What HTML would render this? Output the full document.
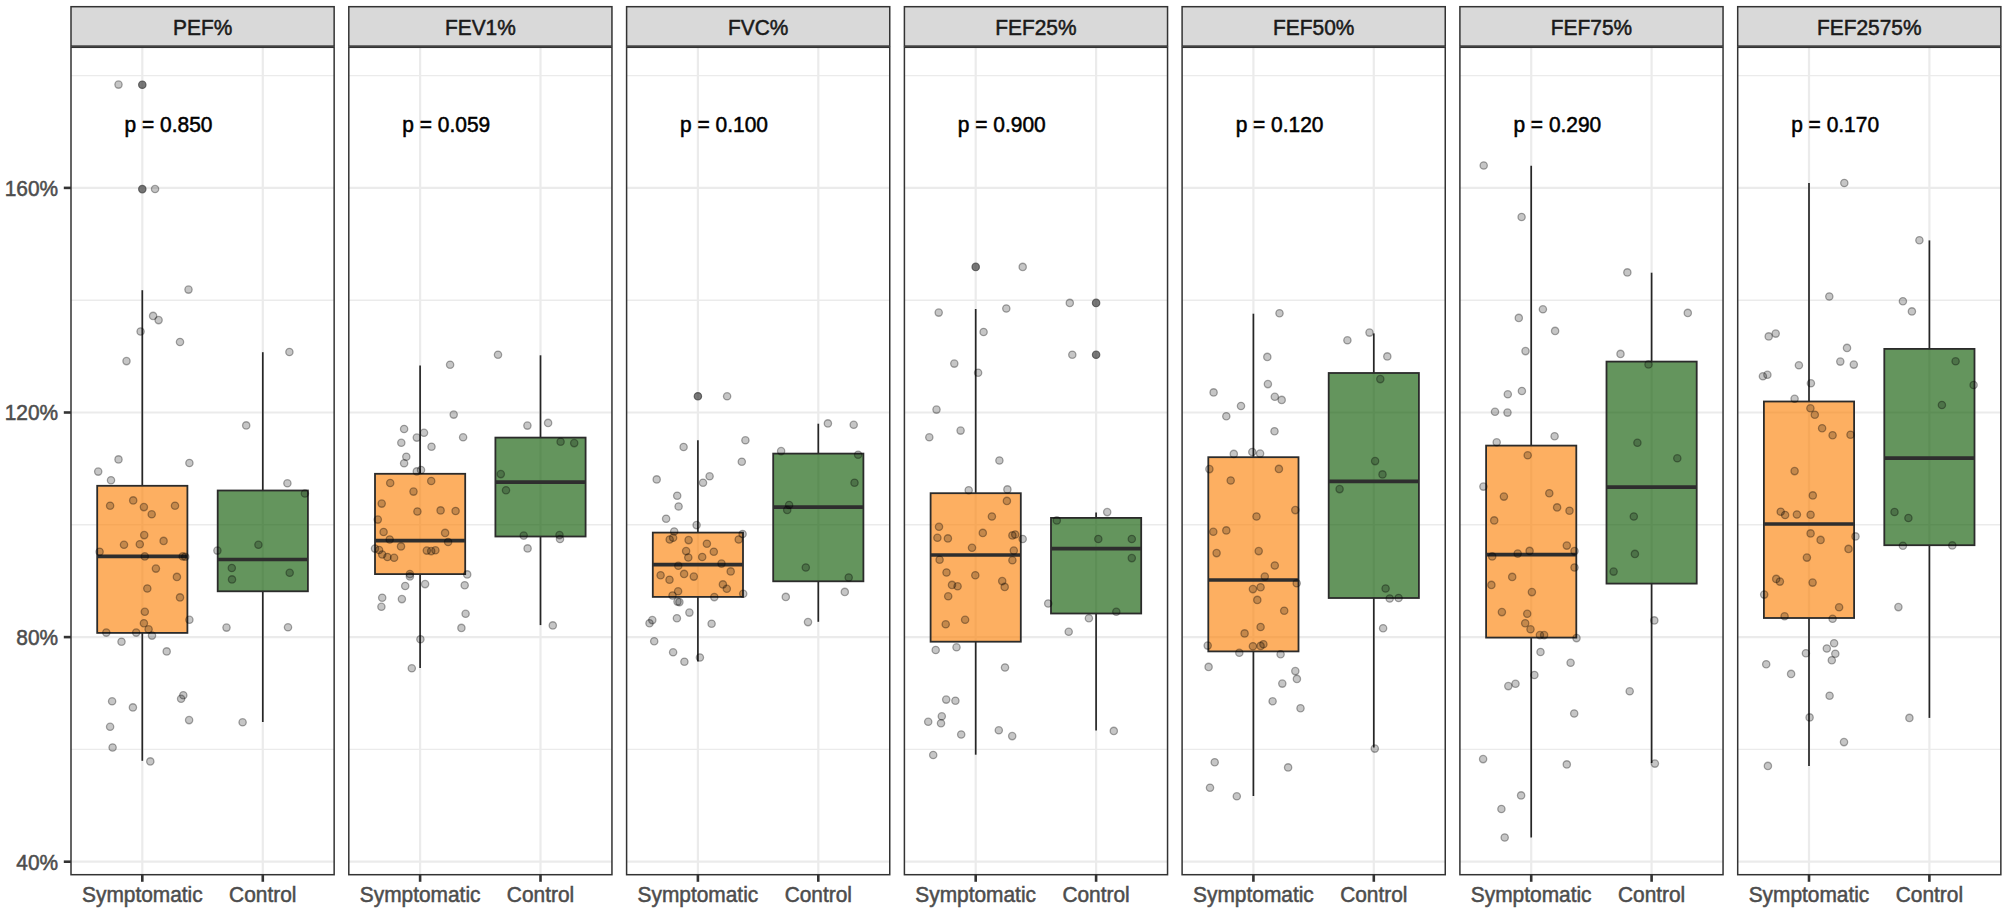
<!DOCTYPE html>
<html lang="en"><head><meta charset="utf-8"><title>Spirometry boxplots</title>
<style>html,body{margin:0;padding:0;background:#fff}body{width:2007px;height:914px;overflow:hidden}svg{display:block}</style>
</head><body>
<svg width="2007" height="914" viewBox="0 0 2007 914" font-family="'Liberation Sans', Arial, Helvetica, sans-serif">
<rect width="2007" height="914" fill="#fff"/>
<text transform="translate(58.10,869.55) scale(1,1.035)" font-size="20.9" fill="#4D4D4D" stroke="#4D4D4D" stroke-width="0.5" text-anchor="end">40%</text>
<line x1="63.8" x2="71.0" y1="861.7" y2="861.7" stroke="#333" stroke-width="2.6"/>
<text transform="translate(58.10,644.95) scale(1,1.035)" font-size="20.9" fill="#4D4D4D" stroke="#4D4D4D" stroke-width="0.5" text-anchor="end">80%</text>
<line x1="63.8" x2="71.0" y1="637.1" y2="637.1" stroke="#333" stroke-width="2.6"/>
<text transform="translate(58.10,420.35) scale(1,1.035)" font-size="20.9" fill="#4D4D4D" stroke="#4D4D4D" stroke-width="0.5" text-anchor="end">120%</text>
<line x1="63.8" x2="71.0" y1="412.5" y2="412.5" stroke="#333" stroke-width="2.6"/>
<text transform="translate(58.10,195.75) scale(1,1.035)" font-size="20.9" fill="#4D4D4D" stroke="#4D4D4D" stroke-width="0.5" text-anchor="end">160%</text>
<line x1="63.8" x2="71.0" y1="187.9" y2="187.9" stroke="#333" stroke-width="2.6"/>
<g>
<rect x="71.0" y="47.3" width="263.15" height="827.4" fill="#fff"/>
<line x1="71.0" x2="334.2" y1="749.4" y2="749.4" stroke="#EBEBEB" stroke-width="1.4"/>
<line x1="71.0" x2="334.2" y1="524.8" y2="524.8" stroke="#EBEBEB" stroke-width="1.4"/>
<line x1="71.0" x2="334.2" y1="300.2" y2="300.2" stroke="#EBEBEB" stroke-width="1.4"/>
<line x1="71.0" x2="334.2" y1="75.6" y2="75.6" stroke="#EBEBEB" stroke-width="1.4"/>
<line x1="71.0" x2="334.2" y1="861.7" y2="861.7" stroke="#EBEBEB" stroke-width="2.2"/>
<line x1="71.0" x2="334.2" y1="637.1" y2="637.1" stroke="#EBEBEB" stroke-width="2.2"/>
<line x1="71.0" x2="334.2" y1="412.5" y2="412.5" stroke="#EBEBEB" stroke-width="2.2"/>
<line x1="71.0" x2="334.2" y1="187.9" y2="187.9" stroke="#EBEBEB" stroke-width="2.2"/>
<line x1="142.3" x2="142.3" y1="47.3" y2="874.7" stroke="#EBEBEB" stroke-width="2.2"/>
<line x1="262.8" x2="262.8" y1="47.3" y2="874.7" stroke="#EBEBEB" stroke-width="2.2"/>
<circle cx="142.3" cy="84.7" r="3.7" fill="#333" fill-opacity="0.66" stroke="#333" stroke-opacity="0.66" stroke-width="1.2"/>
<circle cx="142.3" cy="189.1" r="3.7" fill="#333" fill-opacity="0.66" stroke="#333" stroke-opacity="0.66" stroke-width="1.2"/>
<line x1="142.3" x2="142.3" y1="290.2" y2="485.8" stroke="#262626" stroke-width="1.7"/>
<line x1="142.3" x2="142.3" y1="632.9" y2="760.8" stroke="#262626" stroke-width="1.7"/>
<rect x="97.2" y="485.8" width="90.2" height="147.1" fill="#FC840D" fill-opacity="0.65" stroke="#2b2b2b" stroke-width="1.8"/>
<line x1="97.2" x2="187.4" y1="556.4" y2="556.4" stroke="#2e2e2e" stroke-width="3.7"/>
<line x1="262.8" x2="262.8" y1="352.2" y2="490.5" stroke="#262626" stroke-width="1.7"/>
<line x1="262.8" x2="262.8" y1="591.3" y2="722.0" stroke="#262626" stroke-width="1.7"/>
<rect x="217.7" y="490.5" width="90.2" height="100.8" fill="#115C06" fill-opacity="0.65" stroke="#2b2b2b" stroke-width="1.8"/>
<line x1="217.7" x2="307.9" y1="559.5" y2="559.5" stroke="#2e2e2e" stroke-width="3.7"/>
<g fill="#000" fill-opacity="0.225" stroke="#000" stroke-opacity="0.33" stroke-width="1.3">
<circle cx="118.5" cy="84.6" r="3.65"/>
<circle cx="155.05" cy="189.05" r="3.65"/>
<circle cx="188.5" cy="289.6" r="3.65"/>
<circle cx="153.1" cy="315.9" r="3.65"/>
<circle cx="158.6" cy="320.1" r="3.65"/>
<circle cx="140.6" cy="331.5" r="3.65"/>
<circle cx="180.0" cy="342.0" r="3.65"/>
<circle cx="126.5" cy="361.1" r="3.65"/>
<circle cx="289.4" cy="352.0" r="3.65"/>
<circle cx="246.2" cy="425.4" r="3.65"/>
<circle cx="118.5" cy="459.4" r="3.65"/>
<circle cx="189.4" cy="463.0" r="3.65"/>
<circle cx="98.2" cy="471.6" r="3.65"/>
<circle cx="111.0" cy="480.2" r="3.65"/>
<circle cx="287.4" cy="483.3" r="3.65"/>
<circle cx="304.9" cy="493.5" r="3.65"/>
<circle cx="133.2" cy="500.4" r="3.65"/>
<circle cx="110.1" cy="505.7" r="3.65"/>
<circle cx="143.9" cy="507.1" r="3.65"/>
<circle cx="175.0" cy="505.7" r="3.65"/>
<circle cx="151.7" cy="514.3" r="3.65"/>
<circle cx="144.2" cy="535.1" r="3.65"/>
<circle cx="163.6" cy="540.9" r="3.65"/>
<circle cx="124.0" cy="544.8" r="3.65"/>
<circle cx="139.8" cy="544.2" r="3.65"/>
<circle cx="99.6" cy="551.7" r="3.65"/>
<circle cx="144.8" cy="556.4" r="3.65"/>
<circle cx="182.7" cy="556.4" r="3.65"/>
<circle cx="185.2" cy="556.7" r="3.65"/>
<circle cx="155.9" cy="568.6" r="3.65"/>
<circle cx="176.9" cy="576.9" r="3.65"/>
<circle cx="147.3" cy="588.5" r="3.65"/>
<circle cx="180.0" cy="597.4" r="3.65"/>
<circle cx="144.8" cy="611.8" r="3.65"/>
<circle cx="143.9" cy="623.2" r="3.65"/>
<circle cx="189.4" cy="619.8" r="3.65"/>
<circle cx="148.6" cy="629.3" r="3.65"/>
<circle cx="106.3" cy="632.6" r="3.65"/>
<circle cx="136.2" cy="632.6" r="3.65"/>
<circle cx="152.0" cy="635.6" r="3.65"/>
<circle cx="121.5" cy="641.7" r="3.65"/>
<circle cx="166.7" cy="651.4" r="3.65"/>
<circle cx="183.3" cy="695.2" r="3.65"/>
<circle cx="181.1" cy="698.8" r="3.65"/>
<circle cx="112.1" cy="701.3" r="3.65"/>
<circle cx="132.9" cy="707.4" r="3.65"/>
<circle cx="189.1" cy="720.1" r="3.65"/>
<circle cx="110.1" cy="726.8" r="3.65"/>
<circle cx="217.4" cy="550.6" r="3.65"/>
<circle cx="258.4" cy="544.8" r="3.65"/>
<circle cx="231.8" cy="568.0" r="3.65"/>
<circle cx="232.0" cy="579.4" r="3.65"/>
<circle cx="289.7" cy="572.8" r="3.65"/>
<circle cx="226.5" cy="627.6" r="3.65"/>
<circle cx="288.0" cy="627.3" r="3.65"/>
<circle cx="242.6" cy="722.3" r="3.65"/>
<circle cx="112.6" cy="747.5" r="3.65"/>
<circle cx="150.3" cy="761.4" r="3.65"/>
</g>
<text transform="translate(124.55,131.75) scale(1,1.035)" font-size="20.95" fill="#000" stroke="#000" stroke-width="0.5">p = 0.850</text>
<rect x="71.0" y="47.3" width="263.15" height="827.4" fill="none" stroke="#333" stroke-width="1.5"/>
<rect x="71.0" y="6.7" width="263.15" height="39.4" fill="#D9D9D9" stroke="#333" stroke-width="1.5"/>
<text transform="translate(202.62,34.75) scale(1,1.035)" font-size="20.9" fill="#1A1A1A" stroke="#1A1A1A" stroke-width="0.5" text-anchor="middle">PEF%</text>
<line x1="142.3" x2="142.3" y1="874.7" y2="881.8" stroke="#333" stroke-width="2.6"/>
<text transform="translate(142.35,902.30) scale(1,1.035)" font-size="20.9" fill="#4D4D4D" stroke="#4D4D4D" stroke-width="0.5" text-anchor="middle">Symptomatic</text>
<line x1="262.8" x2="262.8" y1="874.7" y2="881.8" stroke="#333" stroke-width="2.6"/>
<text transform="translate(262.75,902.30) scale(1,1.035)" font-size="20.9" fill="#4D4D4D" stroke="#4D4D4D" stroke-width="0.5" text-anchor="middle">Control</text>
</g>
<g>
<rect x="348.8" y="47.3" width="263.15" height="827.4" fill="#fff"/>
<line x1="348.8" x2="612.0" y1="749.4" y2="749.4" stroke="#EBEBEB" stroke-width="1.4"/>
<line x1="348.8" x2="612.0" y1="524.8" y2="524.8" stroke="#EBEBEB" stroke-width="1.4"/>
<line x1="348.8" x2="612.0" y1="300.2" y2="300.2" stroke="#EBEBEB" stroke-width="1.4"/>
<line x1="348.8" x2="612.0" y1="75.6" y2="75.6" stroke="#EBEBEB" stroke-width="1.4"/>
<line x1="348.8" x2="612.0" y1="861.7" y2="861.7" stroke="#EBEBEB" stroke-width="2.2"/>
<line x1="348.8" x2="612.0" y1="637.1" y2="637.1" stroke="#EBEBEB" stroke-width="2.2"/>
<line x1="348.8" x2="612.0" y1="412.5" y2="412.5" stroke="#EBEBEB" stroke-width="2.2"/>
<line x1="348.8" x2="612.0" y1="187.9" y2="187.9" stroke="#EBEBEB" stroke-width="2.2"/>
<line x1="420.1" x2="420.1" y1="47.3" y2="874.7" stroke="#EBEBEB" stroke-width="2.2"/>
<line x1="540.5" x2="540.5" y1="47.3" y2="874.7" stroke="#EBEBEB" stroke-width="2.2"/>
<line x1="420.1" x2="420.1" y1="365.5" y2="473.8" stroke="#262626" stroke-width="1.7"/>
<line x1="420.1" x2="420.1" y1="574.1" y2="668.0" stroke="#262626" stroke-width="1.7"/>
<rect x="375.0" y="473.8" width="90.2" height="100.3" fill="#FC840D" fill-opacity="0.65" stroke="#2b2b2b" stroke-width="1.8"/>
<line x1="375.0" x2="465.2" y1="540.6" y2="540.6" stroke="#2e2e2e" stroke-width="3.7"/>
<line x1="540.5" x2="540.5" y1="355.3" y2="437.6" stroke="#262626" stroke-width="1.7"/>
<line x1="540.5" x2="540.5" y1="536.5" y2="625.1" stroke="#262626" stroke-width="1.7"/>
<rect x="495.4" y="437.6" width="90.2" height="98.9" fill="#115C06" fill-opacity="0.65" stroke="#2b2b2b" stroke-width="1.8"/>
<line x1="495.4" x2="585.6" y1="482.2" y2="482.2" stroke="#2e2e2e" stroke-width="3.7"/>
<g fill="#000" fill-opacity="0.225" stroke="#000" stroke-opacity="0.33" stroke-width="1.3">
<circle cx="498.0" cy="354.7" r="3.65"/>
<circle cx="450.1" cy="364.7" r="3.65"/>
<circle cx="453.7" cy="414.6" r="3.65"/>
<circle cx="404.1" cy="429.0" r="3.65"/>
<circle cx="424.0" cy="432.8" r="3.65"/>
<circle cx="416.8" cy="437.6" r="3.65"/>
<circle cx="401.3" cy="442.8" r="3.65"/>
<circle cx="463.1" cy="437.3" r="3.65"/>
<circle cx="431.5" cy="446.7" r="3.65"/>
<circle cx="406.3" cy="456.7" r="3.65"/>
<circle cx="404.1" cy="463.3" r="3.65"/>
<circle cx="421.0" cy="470.0" r="3.65"/>
<circle cx="416.8" cy="471.4" r="3.65"/>
<circle cx="527.4" cy="425.6" r="3.65"/>
<circle cx="548.1" cy="422.9" r="3.65"/>
<circle cx="560.6" cy="441.7" r="3.65"/>
<circle cx="574.2" cy="443.1" r="3.65"/>
<circle cx="500.8" cy="474.1" r="3.65"/>
<circle cx="506.0" cy="490.2" r="3.65"/>
<circle cx="390.2" cy="483.0" r="3.65"/>
<circle cx="431.2" cy="481.0" r="3.65"/>
<circle cx="413.5" cy="491.6" r="3.65"/>
<circle cx="381.7" cy="503.6" r="3.65"/>
<circle cx="417.4" cy="511.5" r="3.65"/>
<circle cx="440.6" cy="510.4" r="3.65"/>
<circle cx="455.6" cy="511.0" r="3.65"/>
<circle cx="377.8" cy="519.6" r="3.65"/>
<circle cx="383.6" cy="532.0" r="3.65"/>
<circle cx="445.1" cy="532.9" r="3.65"/>
<circle cx="389.7" cy="539.5" r="3.65"/>
<circle cx="448.1" cy="542.0" r="3.65"/>
<circle cx="401.0" cy="546.4" r="3.65"/>
<circle cx="375.0" cy="548.6" r="3.65"/>
<circle cx="379.1" cy="550.0" r="3.65"/>
<circle cx="382.2" cy="554.5" r="3.65"/>
<circle cx="387.4" cy="557.0" r="3.65"/>
<circle cx="394.1" cy="557.8" r="3.65"/>
<circle cx="426.8" cy="550.6" r="3.65"/>
<circle cx="431.2" cy="551.1" r="3.65"/>
<circle cx="435.4" cy="550.3" r="3.65"/>
<circle cx="409.9" cy="574.1" r="3.65"/>
<circle cx="409.9" cy="576.4" r="3.65"/>
<circle cx="467.2" cy="574.4" r="3.65"/>
<circle cx="405.2" cy="586.0" r="3.65"/>
<circle cx="425.1" cy="584.1" r="3.65"/>
<circle cx="464.7" cy="585.2" r="3.65"/>
<circle cx="382.2" cy="597.7" r="3.65"/>
<circle cx="401.9" cy="599.1" r="3.65"/>
<circle cx="381.4" cy="606.8" r="3.65"/>
<circle cx="465.6" cy="613.8" r="3.65"/>
<circle cx="461.4" cy="627.9" r="3.65"/>
<circle cx="420.4" cy="639.2" r="3.65"/>
<circle cx="411.8" cy="668.3" r="3.65"/>
<circle cx="523.7" cy="535.6" r="3.65"/>
<circle cx="559.5" cy="535.1" r="3.65"/>
<circle cx="560.0" cy="539.0" r="3.65"/>
<circle cx="527.6" cy="548.4" r="3.65"/>
<circle cx="552.8" cy="625.4" r="3.65"/>
</g>
<text transform="translate(402.32,131.75) scale(1,1.035)" font-size="20.95" fill="#000" stroke="#000" stroke-width="0.5">p = 0.059</text>
<rect x="348.8" y="47.3" width="263.15" height="827.4" fill="none" stroke="#333" stroke-width="1.5"/>
<rect x="348.8" y="6.7" width="263.15" height="39.4" fill="#D9D9D9" stroke="#333" stroke-width="1.5"/>
<text transform="translate(480.39,34.75) scale(1,1.035)" font-size="20.9" fill="#1A1A1A" stroke="#1A1A1A" stroke-width="0.5" text-anchor="middle">FEV1%</text>
<line x1="420.1" x2="420.1" y1="874.7" y2="881.8" stroke="#333" stroke-width="2.6"/>
<text transform="translate(420.12,902.30) scale(1,1.035)" font-size="20.9" fill="#4D4D4D" stroke="#4D4D4D" stroke-width="0.5" text-anchor="middle">Symptomatic</text>
<line x1="540.5" x2="540.5" y1="874.7" y2="881.8" stroke="#333" stroke-width="2.6"/>
<text transform="translate(540.52,902.30) scale(1,1.035)" font-size="20.9" fill="#4D4D4D" stroke="#4D4D4D" stroke-width="0.5" text-anchor="middle">Control</text>
</g>
<g>
<rect x="626.6" y="47.3" width="263.15" height="827.4" fill="#fff"/>
<line x1="626.6" x2="889.7" y1="749.4" y2="749.4" stroke="#EBEBEB" stroke-width="1.4"/>
<line x1="626.6" x2="889.7" y1="524.8" y2="524.8" stroke="#EBEBEB" stroke-width="1.4"/>
<line x1="626.6" x2="889.7" y1="300.2" y2="300.2" stroke="#EBEBEB" stroke-width="1.4"/>
<line x1="626.6" x2="889.7" y1="75.6" y2="75.6" stroke="#EBEBEB" stroke-width="1.4"/>
<line x1="626.6" x2="889.7" y1="861.7" y2="861.7" stroke="#EBEBEB" stroke-width="2.2"/>
<line x1="626.6" x2="889.7" y1="637.1" y2="637.1" stroke="#EBEBEB" stroke-width="2.2"/>
<line x1="626.6" x2="889.7" y1="412.5" y2="412.5" stroke="#EBEBEB" stroke-width="2.2"/>
<line x1="626.6" x2="889.7" y1="187.9" y2="187.9" stroke="#EBEBEB" stroke-width="2.2"/>
<line x1="697.9" x2="697.9" y1="47.3" y2="874.7" stroke="#EBEBEB" stroke-width="2.2"/>
<line x1="818.3" x2="818.3" y1="47.3" y2="874.7" stroke="#EBEBEB" stroke-width="2.2"/>
<circle cx="697.9" cy="396.3" r="3.7" fill="#333" fill-opacity="0.66" stroke="#333" stroke-opacity="0.66" stroke-width="1.2"/>
<line x1="697.9" x2="697.9" y1="440.3" y2="532.6" stroke="#262626" stroke-width="1.7"/>
<line x1="697.9" x2="697.9" y1="596.9" y2="661.4" stroke="#262626" stroke-width="1.7"/>
<rect x="652.8" y="532.6" width="90.2" height="64.3" fill="#FC840D" fill-opacity="0.65" stroke="#2b2b2b" stroke-width="1.8"/>
<line x1="652.8" x2="743.0" y1="564.7" y2="564.7" stroke="#2e2e2e" stroke-width="3.7"/>
<line x1="818.3" x2="818.3" y1="423.7" y2="453.6" stroke="#262626" stroke-width="1.7"/>
<line x1="818.3" x2="818.3" y1="581.3" y2="621.8" stroke="#262626" stroke-width="1.7"/>
<rect x="773.2" y="453.6" width="90.2" height="127.7" fill="#115C06" fill-opacity="0.65" stroke="#2b2b2b" stroke-width="1.8"/>
<line x1="773.2" x2="863.4" y1="507.1" y2="507.1" stroke="#2e2e2e" stroke-width="3.7"/>
<g fill="#000" fill-opacity="0.225" stroke="#000" stroke-opacity="0.33" stroke-width="1.3">
<circle cx="727.1" cy="396.3" r="3.65"/>
<circle cx="827.9" cy="423.4" r="3.65"/>
<circle cx="853.7" cy="424.8" r="3.65"/>
<circle cx="745.4" cy="440.3" r="3.65"/>
<circle cx="683.6" cy="447.0" r="3.65"/>
<circle cx="781.1" cy="451.1" r="3.65"/>
<circle cx="858.1" cy="454.7" r="3.65"/>
<circle cx="741.8" cy="461.7" r="3.65"/>
<circle cx="709.6" cy="476.3" r="3.65"/>
<circle cx="656.7" cy="479.4" r="3.65"/>
<circle cx="703.0" cy="482.7" r="3.65"/>
<circle cx="854.5" cy="482.7" r="3.65"/>
<circle cx="677.2" cy="495.7" r="3.65"/>
<circle cx="789.1" cy="505.0" r="3.65"/>
<circle cx="678.6" cy="506.5" r="3.65"/>
<circle cx="666.1" cy="518.7" r="3.65"/>
<circle cx="696.6" cy="525.1" r="3.65"/>
<circle cx="674.2" cy="531.5" r="3.65"/>
<circle cx="742.6" cy="534.0" r="3.65"/>
<circle cx="669.7" cy="539.5" r="3.65"/>
<circle cx="673.1" cy="537.8" r="3.65"/>
<circle cx="688.6" cy="540.1" r="3.65"/>
<circle cx="738.7" cy="539.5" r="3.65"/>
<circle cx="706.9" cy="543.7" r="3.65"/>
<circle cx="686.1" cy="551.1" r="3.65"/>
<circle cx="713.8" cy="551.7" r="3.65"/>
<circle cx="688.3" cy="557.5" r="3.65"/>
<circle cx="702.2" cy="557.0" r="3.65"/>
<circle cx="721.5" cy="563.6" r="3.65"/>
<circle cx="678.3" cy="565.8" r="3.65"/>
<circle cx="730.7" cy="571.4" r="3.65"/>
<circle cx="660.6" cy="575.2" r="3.65"/>
<circle cx="684.1" cy="573.9" r="3.65"/>
<circle cx="693.8" cy="576.6" r="3.65"/>
<circle cx="669.5" cy="579.7" r="3.65"/>
<circle cx="722.9" cy="584.4" r="3.65"/>
<circle cx="726.8" cy="588.8" r="3.65"/>
<circle cx="678.1" cy="591.3" r="3.65"/>
<circle cx="672.5" cy="595.5" r="3.65"/>
<circle cx="743.2" cy="593.8" r="3.65"/>
<circle cx="714.3" cy="597.1" r="3.65"/>
<circle cx="677.5" cy="601.6" r="3.65"/>
<circle cx="679.4" cy="602.1" r="3.65"/>
<circle cx="689.4" cy="612.6" r="3.65"/>
<circle cx="676.9" cy="618.2" r="3.65"/>
<circle cx="652.3" cy="620.1" r="3.65"/>
<circle cx="649.5" cy="623.2" r="3.65"/>
<circle cx="711.6" cy="623.7" r="3.65"/>
<circle cx="654.2" cy="641.2" r="3.65"/>
<circle cx="673.1" cy="652.3" r="3.65"/>
<circle cx="699.9" cy="657.5" r="3.65"/>
<circle cx="684.4" cy="661.7" r="3.65"/>
<circle cx="787.2" cy="509.9" r="3.65"/>
<circle cx="805.8" cy="567.5" r="3.65"/>
<circle cx="848.7" cy="577.5" r="3.65"/>
<circle cx="844.8" cy="591.9" r="3.65"/>
<circle cx="785.8" cy="596.9" r="3.65"/>
<circle cx="808.0" cy="622.1" r="3.65"/>
</g>
<text transform="translate(680.09,131.75) scale(1,1.035)" font-size="20.95" fill="#000" stroke="#000" stroke-width="0.5">p = 0.100</text>
<rect x="626.6" y="47.3" width="263.15" height="827.4" fill="none" stroke="#333" stroke-width="1.5"/>
<rect x="626.6" y="6.7" width="263.15" height="39.4" fill="#D9D9D9" stroke="#333" stroke-width="1.5"/>
<text transform="translate(758.16,34.75) scale(1,1.035)" font-size="20.9" fill="#1A1A1A" stroke="#1A1A1A" stroke-width="0.5" text-anchor="middle">FVC%</text>
<line x1="697.9" x2="697.9" y1="874.7" y2="881.8" stroke="#333" stroke-width="2.6"/>
<text transform="translate(697.89,902.30) scale(1,1.035)" font-size="20.9" fill="#4D4D4D" stroke="#4D4D4D" stroke-width="0.5" text-anchor="middle">Symptomatic</text>
<line x1="818.3" x2="818.3" y1="874.7" y2="881.8" stroke="#333" stroke-width="2.6"/>
<text transform="translate(818.29,902.30) scale(1,1.035)" font-size="20.9" fill="#4D4D4D" stroke="#4D4D4D" stroke-width="0.5" text-anchor="middle">Control</text>
</g>
<g>
<rect x="904.4" y="47.3" width="263.15" height="827.4" fill="#fff"/>
<line x1="904.4" x2="1167.5" y1="749.4" y2="749.4" stroke="#EBEBEB" stroke-width="1.4"/>
<line x1="904.4" x2="1167.5" y1="524.8" y2="524.8" stroke="#EBEBEB" stroke-width="1.4"/>
<line x1="904.4" x2="1167.5" y1="300.2" y2="300.2" stroke="#EBEBEB" stroke-width="1.4"/>
<line x1="904.4" x2="1167.5" y1="75.6" y2="75.6" stroke="#EBEBEB" stroke-width="1.4"/>
<line x1="904.4" x2="1167.5" y1="861.7" y2="861.7" stroke="#EBEBEB" stroke-width="2.2"/>
<line x1="904.4" x2="1167.5" y1="637.1" y2="637.1" stroke="#EBEBEB" stroke-width="2.2"/>
<line x1="904.4" x2="1167.5" y1="412.5" y2="412.5" stroke="#EBEBEB" stroke-width="2.2"/>
<line x1="904.4" x2="1167.5" y1="187.9" y2="187.9" stroke="#EBEBEB" stroke-width="2.2"/>
<line x1="975.7" x2="975.7" y1="47.3" y2="874.7" stroke="#EBEBEB" stroke-width="2.2"/>
<line x1="1096.1" x2="1096.1" y1="47.3" y2="874.7" stroke="#EBEBEB" stroke-width="2.2"/>
<circle cx="975.7" cy="266.9" r="3.7" fill="#333" fill-opacity="0.66" stroke="#333" stroke-opacity="0.66" stroke-width="1.2"/>
<line x1="975.7" x2="975.7" y1="309.0" y2="493.2" stroke="#262626" stroke-width="1.7"/>
<line x1="975.7" x2="975.7" y1="641.7" y2="754.7" stroke="#262626" stroke-width="1.7"/>
<rect x="930.6" y="493.2" width="90.2" height="148.5" fill="#FC840D" fill-opacity="0.65" stroke="#2b2b2b" stroke-width="1.8"/>
<line x1="930.6" x2="1020.8" y1="555.0" y2="555.0" stroke="#2e2e2e" stroke-width="3.7"/>
<circle cx="1096.1" cy="302.9" r="3.7" fill="#333" fill-opacity="0.66" stroke="#333" stroke-opacity="0.66" stroke-width="1.2"/>
<circle cx="1096.1" cy="354.7" r="3.7" fill="#333" fill-opacity="0.66" stroke="#333" stroke-opacity="0.66" stroke-width="1.2"/>
<line x1="1096.1" x2="1096.1" y1="512.6" y2="517.9" stroke="#262626" stroke-width="1.7"/>
<line x1="1096.1" x2="1096.1" y1="613.5" y2="730.6" stroke="#262626" stroke-width="1.7"/>
<rect x="1051.0" y="517.9" width="90.2" height="95.6" fill="#115C06" fill-opacity="0.65" stroke="#2b2b2b" stroke-width="1.8"/>
<line x1="1051.0" x2="1141.2" y1="548.6" y2="548.6" stroke="#2e2e2e" stroke-width="3.7"/>
<g fill="#000" fill-opacity="0.225" stroke="#000" stroke-opacity="0.33" stroke-width="1.3">
<circle cx="1022.7" cy="266.9" r="3.65"/>
<circle cx="1069.8" cy="302.9" r="3.65"/>
<circle cx="1006.3" cy="308.5" r="3.65"/>
<circle cx="938.7" cy="312.6" r="3.65"/>
<circle cx="983.6" cy="332.0" r="3.65"/>
<circle cx="1072.3" cy="354.7" r="3.65"/>
<circle cx="954.3" cy="363.6" r="3.65"/>
<circle cx="978.1" cy="372.7" r="3.65"/>
<circle cx="936.5" cy="409.6" r="3.65"/>
<circle cx="960.6" cy="430.6" r="3.65"/>
<circle cx="929.3" cy="437.3" r="3.65"/>
<circle cx="999.4" cy="460.5" r="3.65"/>
<circle cx="968.7" cy="490.2" r="3.65"/>
<circle cx="1007.4" cy="489.4" r="3.65"/>
<circle cx="1006.9" cy="500.9" r="3.65"/>
<circle cx="991.9" cy="516.5" r="3.65"/>
<circle cx="939.0" cy="526.8" r="3.65"/>
<circle cx="982.8" cy="532.9" r="3.65"/>
<circle cx="1012.4" cy="535.4" r="3.65"/>
<circle cx="1015.2" cy="534.5" r="3.65"/>
<circle cx="1022.7" cy="539.0" r="3.65"/>
<circle cx="937.4" cy="537.8" r="3.65"/>
<circle cx="947.9" cy="538.4" r="3.65"/>
<circle cx="972.0" cy="547.8" r="3.65"/>
<circle cx="1013.8" cy="550.6" r="3.65"/>
<circle cx="939.6" cy="559.7" r="3.65"/>
<circle cx="1012.4" cy="560.3" r="3.65"/>
<circle cx="946.5" cy="572.5" r="3.65"/>
<circle cx="975.3" cy="575.2" r="3.65"/>
<circle cx="1002.2" cy="581.1" r="3.65"/>
<circle cx="952.0" cy="584.9" r="3.65"/>
<circle cx="957.6" cy="586.3" r="3.65"/>
<circle cx="1004.7" cy="586.9" r="3.65"/>
<circle cx="948.2" cy="596.3" r="3.65"/>
<circle cx="965.1" cy="619.8" r="3.65"/>
<circle cx="945.7" cy="624.3" r="3.65"/>
<circle cx="956.5" cy="647.3" r="3.65"/>
<circle cx="935.7" cy="650.0" r="3.65"/>
<circle cx="1005.0" cy="667.5" r="3.65"/>
<circle cx="946.2" cy="699.6" r="3.65"/>
<circle cx="955.4" cy="700.7" r="3.65"/>
<circle cx="941.8" cy="716.3" r="3.65"/>
<circle cx="928.2" cy="721.8" r="3.65"/>
<circle cx="941.0" cy="723.2" r="3.65"/>
<circle cx="998.8" cy="730.3" r="3.65"/>
<circle cx="1113.8" cy="730.9" r="3.65"/>
<circle cx="1107.2" cy="512.1" r="3.65"/>
<circle cx="1056.8" cy="520.4" r="3.65"/>
<circle cx="1098.3" cy="539.0" r="3.65"/>
<circle cx="1131.8" cy="539.0" r="3.65"/>
<circle cx="1131.8" cy="558.1" r="3.65"/>
<circle cx="1048.2" cy="603.5" r="3.65"/>
<circle cx="1116.3" cy="611.8" r="3.65"/>
<circle cx="1088.9" cy="618.2" r="3.65"/>
<circle cx="1068.7" cy="631.8" r="3.65"/>
<circle cx="961.2" cy="734.5" r="3.65"/>
<circle cx="1012.2" cy="736.1" r="3.65"/>
<circle cx="933.2" cy="755.0" r="3.65"/>
</g>
<text transform="translate(957.86,131.75) scale(1,1.035)" font-size="20.95" fill="#000" stroke="#000" stroke-width="0.5">p = 0.900</text>
<rect x="904.4" y="47.3" width="263.15" height="827.4" fill="none" stroke="#333" stroke-width="1.5"/>
<rect x="904.4" y="6.7" width="263.15" height="39.4" fill="#D9D9D9" stroke="#333" stroke-width="1.5"/>
<text transform="translate(1035.93,34.75) scale(1,1.035)" font-size="20.9" fill="#1A1A1A" stroke="#1A1A1A" stroke-width="0.5" text-anchor="middle">FEF25%</text>
<line x1="975.7" x2="975.7" y1="874.7" y2="881.8" stroke="#333" stroke-width="2.6"/>
<text transform="translate(975.66,902.30) scale(1,1.035)" font-size="20.9" fill="#4D4D4D" stroke="#4D4D4D" stroke-width="0.5" text-anchor="middle">Symptomatic</text>
<line x1="1096.1" x2="1096.1" y1="874.7" y2="881.8" stroke="#333" stroke-width="2.6"/>
<text transform="translate(1096.06,902.30) scale(1,1.035)" font-size="20.9" fill="#4D4D4D" stroke="#4D4D4D" stroke-width="0.5" text-anchor="middle">Control</text>
</g>
<g>
<rect x="1182.1" y="47.3" width="263.15" height="827.4" fill="#fff"/>
<line x1="1182.1" x2="1445.3" y1="749.4" y2="749.4" stroke="#EBEBEB" stroke-width="1.4"/>
<line x1="1182.1" x2="1445.3" y1="524.8" y2="524.8" stroke="#EBEBEB" stroke-width="1.4"/>
<line x1="1182.1" x2="1445.3" y1="300.2" y2="300.2" stroke="#EBEBEB" stroke-width="1.4"/>
<line x1="1182.1" x2="1445.3" y1="75.6" y2="75.6" stroke="#EBEBEB" stroke-width="1.4"/>
<line x1="1182.1" x2="1445.3" y1="861.7" y2="861.7" stroke="#EBEBEB" stroke-width="2.2"/>
<line x1="1182.1" x2="1445.3" y1="637.1" y2="637.1" stroke="#EBEBEB" stroke-width="2.2"/>
<line x1="1182.1" x2="1445.3" y1="412.5" y2="412.5" stroke="#EBEBEB" stroke-width="2.2"/>
<line x1="1182.1" x2="1445.3" y1="187.9" y2="187.9" stroke="#EBEBEB" stroke-width="2.2"/>
<line x1="1253.4" x2="1253.4" y1="47.3" y2="874.7" stroke="#EBEBEB" stroke-width="2.2"/>
<line x1="1373.8" x2="1373.8" y1="47.3" y2="874.7" stroke="#EBEBEB" stroke-width="2.2"/>
<line x1="1253.4" x2="1253.4" y1="313.7" y2="457.2" stroke="#262626" stroke-width="1.7"/>
<line x1="1253.4" x2="1253.4" y1="651.4" y2="796.0" stroke="#262626" stroke-width="1.7"/>
<rect x="1208.3" y="457.2" width="90.2" height="194.2" fill="#FC840D" fill-opacity="0.65" stroke="#2b2b2b" stroke-width="1.8"/>
<line x1="1208.3" x2="1298.5" y1="580.0" y2="580.0" stroke="#2e2e2e" stroke-width="3.7"/>
<line x1="1373.8" x2="1373.8" y1="333.4" y2="373.0" stroke="#262626" stroke-width="1.7"/>
<line x1="1373.8" x2="1373.8" y1="598.0" y2="747.5" stroke="#262626" stroke-width="1.7"/>
<rect x="1328.7" y="373.0" width="90.2" height="225.0" fill="#115C06" fill-opacity="0.65" stroke="#2b2b2b" stroke-width="1.8"/>
<line x1="1328.7" x2="1418.9" y1="481.3" y2="481.3" stroke="#2e2e2e" stroke-width="3.7"/>
<g fill="#000" fill-opacity="0.225" stroke="#000" stroke-opacity="0.33" stroke-width="1.3">
<circle cx="1279.5" cy="313.2" r="3.65"/>
<circle cx="1369.5" cy="332.6" r="3.65"/>
<circle cx="1347.4" cy="340.3" r="3.65"/>
<circle cx="1267.3" cy="356.9" r="3.65"/>
<circle cx="1387.3" cy="356.4" r="3.65"/>
<circle cx="1380.3" cy="379.1" r="3.65"/>
<circle cx="1267.9" cy="384.1" r="3.65"/>
<circle cx="1213.6" cy="392.4" r="3.65"/>
<circle cx="1274.8" cy="396.8" r="3.65"/>
<circle cx="1281.7" cy="399.9" r="3.65"/>
<circle cx="1241.0" cy="406.0" r="3.65"/>
<circle cx="1226.3" cy="416.2" r="3.65"/>
<circle cx="1274.5" cy="431.2" r="3.65"/>
<circle cx="1233.8" cy="453.9" r="3.65"/>
<circle cx="1252.3" cy="452.0" r="3.65"/>
<circle cx="1260.1" cy="453.6" r="3.65"/>
<circle cx="1375.1" cy="461.1" r="3.65"/>
<circle cx="1209.4" cy="469.1" r="3.65"/>
<circle cx="1278.9" cy="468.9" r="3.65"/>
<circle cx="1382.5" cy="474.4" r="3.65"/>
<circle cx="1230.7" cy="480.5" r="3.65"/>
<circle cx="1339.6" cy="489.1" r="3.65"/>
<circle cx="1295.3" cy="510.1" r="3.65"/>
<circle cx="1256.5" cy="516.5" r="3.65"/>
<circle cx="1213.3" cy="531.8" r="3.65"/>
<circle cx="1226.3" cy="530.4" r="3.65"/>
<circle cx="1216.6" cy="553.1" r="3.65"/>
<circle cx="1258.7" cy="551.1" r="3.65"/>
<circle cx="1274.8" cy="565.5" r="3.65"/>
<circle cx="1264.8" cy="576.6" r="3.65"/>
<circle cx="1296.7" cy="583.3" r="3.65"/>
<circle cx="1252.9" cy="589.1" r="3.65"/>
<circle cx="1260.6" cy="587.2" r="3.65"/>
<circle cx="1257.3" cy="599.9" r="3.65"/>
<circle cx="1284.2" cy="610.7" r="3.65"/>
<circle cx="1260.6" cy="627.0" r="3.65"/>
<circle cx="1244.6" cy="633.4" r="3.65"/>
<circle cx="1207.7" cy="645.6" r="3.65"/>
<circle cx="1252.9" cy="646.2" r="3.65"/>
<circle cx="1260.6" cy="645.9" r="3.65"/>
<circle cx="1263.4" cy="644.2" r="3.65"/>
<circle cx="1239.3" cy="652.8" r="3.65"/>
<circle cx="1280.6" cy="654.2" r="3.65"/>
<circle cx="1208.6" cy="666.9" r="3.65"/>
<circle cx="1295.3" cy="671.1" r="3.65"/>
<circle cx="1296.9" cy="678.9" r="3.65"/>
<circle cx="1282.3" cy="683.6" r="3.65"/>
<circle cx="1272.6" cy="701.3" r="3.65"/>
<circle cx="1300.5" cy="708.2" r="3.65"/>
<circle cx="1385.6" cy="588.5" r="3.65"/>
<circle cx="1389.7" cy="598.5" r="3.65"/>
<circle cx="1398.6" cy="598.0" r="3.65"/>
<circle cx="1383.1" cy="628.2" r="3.65"/>
<circle cx="1374.8" cy="748.6" r="3.65"/>
<circle cx="1214.7" cy="762.2" r="3.65"/>
<circle cx="1288.1" cy="767.4" r="3.65"/>
<circle cx="1210.0" cy="787.7" r="3.65"/>
<circle cx="1236.8" cy="796.3" r="3.65"/>
</g>
<text transform="translate(1235.63,131.75) scale(1,1.035)" font-size="20.95" fill="#000" stroke="#000" stroke-width="0.5">p = 0.120</text>
<rect x="1182.1" y="47.3" width="263.15" height="827.4" fill="none" stroke="#333" stroke-width="1.5"/>
<rect x="1182.1" y="6.7" width="263.15" height="39.4" fill="#D9D9D9" stroke="#333" stroke-width="1.5"/>
<text transform="translate(1313.70,34.75) scale(1,1.035)" font-size="20.9" fill="#1A1A1A" stroke="#1A1A1A" stroke-width="0.5" text-anchor="middle">FEF50%</text>
<line x1="1253.4" x2="1253.4" y1="874.7" y2="881.8" stroke="#333" stroke-width="2.6"/>
<text transform="translate(1253.43,902.30) scale(1,1.035)" font-size="20.9" fill="#4D4D4D" stroke="#4D4D4D" stroke-width="0.5" text-anchor="middle">Symptomatic</text>
<line x1="1373.8" x2="1373.8" y1="874.7" y2="881.8" stroke="#333" stroke-width="2.6"/>
<text transform="translate(1373.83,902.30) scale(1,1.035)" font-size="20.9" fill="#4D4D4D" stroke="#4D4D4D" stroke-width="0.5" text-anchor="middle">Control</text>
</g>
<g>
<rect x="1459.9" y="47.3" width="263.15" height="827.4" fill="#fff"/>
<line x1="1459.9" x2="1723.0" y1="749.4" y2="749.4" stroke="#EBEBEB" stroke-width="1.4"/>
<line x1="1459.9" x2="1723.0" y1="524.8" y2="524.8" stroke="#EBEBEB" stroke-width="1.4"/>
<line x1="1459.9" x2="1723.0" y1="300.2" y2="300.2" stroke="#EBEBEB" stroke-width="1.4"/>
<line x1="1459.9" x2="1723.0" y1="75.6" y2="75.6" stroke="#EBEBEB" stroke-width="1.4"/>
<line x1="1459.9" x2="1723.0" y1="861.7" y2="861.7" stroke="#EBEBEB" stroke-width="2.2"/>
<line x1="1459.9" x2="1723.0" y1="637.1" y2="637.1" stroke="#EBEBEB" stroke-width="2.2"/>
<line x1="1459.9" x2="1723.0" y1="412.5" y2="412.5" stroke="#EBEBEB" stroke-width="2.2"/>
<line x1="1459.9" x2="1723.0" y1="187.9" y2="187.9" stroke="#EBEBEB" stroke-width="2.2"/>
<line x1="1531.2" x2="1531.2" y1="47.3" y2="874.7" stroke="#EBEBEB" stroke-width="2.2"/>
<line x1="1651.6" x2="1651.6" y1="47.3" y2="874.7" stroke="#EBEBEB" stroke-width="2.2"/>
<line x1="1531.2" x2="1531.2" y1="165.8" y2="445.6" stroke="#262626" stroke-width="1.7"/>
<line x1="1531.2" x2="1531.2" y1="637.6" y2="837.5" stroke="#262626" stroke-width="1.7"/>
<rect x="1486.1" y="445.6" width="90.2" height="192.0" fill="#FC840D" fill-opacity="0.65" stroke="#2b2b2b" stroke-width="1.8"/>
<line x1="1486.1" x2="1576.3" y1="554.7" y2="554.7" stroke="#2e2e2e" stroke-width="3.7"/>
<line x1="1651.6" x2="1651.6" y1="272.7" y2="361.6" stroke="#262626" stroke-width="1.7"/>
<line x1="1651.6" x2="1651.6" y1="583.6" y2="763.0" stroke="#262626" stroke-width="1.7"/>
<rect x="1606.5" y="361.6" width="90.2" height="222.0" fill="#115C06" fill-opacity="0.65" stroke="#2b2b2b" stroke-width="1.8"/>
<line x1="1606.5" x2="1696.7" y1="487.1" y2="487.1" stroke="#2e2e2e" stroke-width="3.7"/>
<g fill="#000" fill-opacity="0.225" stroke="#000" stroke-opacity="0.33" stroke-width="1.3">
<circle cx="1483.7" cy="165.5" r="3.65"/>
<circle cx="1521.6" cy="217.0" r="3.65"/>
<circle cx="1627.35" cy="272.4" r="3.65"/>
<circle cx="1542.9" cy="309.3" r="3.65"/>
<circle cx="1518.8" cy="317.9" r="3.65"/>
<circle cx="1687.8" cy="312.9" r="3.65"/>
<circle cx="1555.1" cy="330.9" r="3.65"/>
<circle cx="1525.5" cy="351.1" r="3.65"/>
<circle cx="1620.5" cy="353.9" r="3.65"/>
<circle cx="1648.5" cy="364.4" r="3.65"/>
<circle cx="1521.9" cy="391.0" r="3.65"/>
<circle cx="1507.8" cy="394.3" r="3.65"/>
<circle cx="1495.0" cy="411.8" r="3.65"/>
<circle cx="1507.5" cy="412.6" r="3.65"/>
<circle cx="1554.6" cy="436.2" r="3.65"/>
<circle cx="1496.7" cy="442.3" r="3.65"/>
<circle cx="1637.4" cy="442.8" r="3.65"/>
<circle cx="1527.7" cy="455.3" r="3.65"/>
<circle cx="1677.3" cy="458.3" r="3.65"/>
<circle cx="1483.4" cy="486.6" r="3.65"/>
<circle cx="1549.3" cy="493.2" r="3.65"/>
<circle cx="1503.9" cy="496.6" r="3.65"/>
<circle cx="1557.1" cy="507.4" r="3.65"/>
<circle cx="1569.5" cy="510.7" r="3.65"/>
<circle cx="1494.2" cy="520.4" r="3.65"/>
<circle cx="1566.8" cy="545.6" r="3.65"/>
<circle cx="1574.5" cy="551.1" r="3.65"/>
<circle cx="1529.6" cy="550.9" r="3.65"/>
<circle cx="1517.7" cy="553.6" r="3.65"/>
<circle cx="1492.2" cy="556.4" r="3.65"/>
<circle cx="1574.5" cy="567.5" r="3.65"/>
<circle cx="1512.2" cy="576.9" r="3.65"/>
<circle cx="1491.4" cy="584.9" r="3.65"/>
<circle cx="1531.9" cy="592.1" r="3.65"/>
<circle cx="1501.9" cy="612.1" r="3.65"/>
<circle cx="1527.2" cy="613.8" r="3.65"/>
<circle cx="1525.2" cy="623.2" r="3.65"/>
<circle cx="1530.5" cy="629.3" r="3.65"/>
<circle cx="1539.9" cy="635.1" r="3.65"/>
<circle cx="1544.1" cy="635.1" r="3.65"/>
<circle cx="1576.5" cy="638.1" r="3.65"/>
<circle cx="1540.5" cy="652.0" r="3.65"/>
<circle cx="1570.6" cy="662.8" r="3.65"/>
<circle cx="1534.4" cy="675.0" r="3.65"/>
<circle cx="1515.5" cy="683.8" r="3.65"/>
<circle cx="1508.3" cy="686.1" r="3.65"/>
<circle cx="1574.2" cy="713.5" r="3.65"/>
<circle cx="1633.8" cy="516.5" r="3.65"/>
<circle cx="1634.9" cy="553.9" r="3.65"/>
<circle cx="1613.6" cy="571.6" r="3.65"/>
<circle cx="1654.3" cy="620.4" r="3.65"/>
<circle cx="1629.7" cy="691.3" r="3.65"/>
<circle cx="1483.1" cy="759.1" r="3.65"/>
<circle cx="1654.9" cy="763.6" r="3.65"/>
<circle cx="1566.8" cy="764.4" r="3.65"/>
<circle cx="1521.1" cy="795.4" r="3.65"/>
<circle cx="1501.4" cy="809.0" r="3.65"/>
<circle cx="1504.7" cy="837.5" r="3.65"/>
</g>
<text transform="translate(1513.40,131.75) scale(1,1.035)" font-size="20.95" fill="#000" stroke="#000" stroke-width="0.5">p = 0.290</text>
<rect x="1459.9" y="47.3" width="263.15" height="827.4" fill="none" stroke="#333" stroke-width="1.5"/>
<rect x="1459.9" y="6.7" width="263.15" height="39.4" fill="#D9D9D9" stroke="#333" stroke-width="1.5"/>
<text transform="translate(1591.47,34.75) scale(1,1.035)" font-size="20.9" fill="#1A1A1A" stroke="#1A1A1A" stroke-width="0.5" text-anchor="middle">FEF75%</text>
<line x1="1531.2" x2="1531.2" y1="874.7" y2="881.8" stroke="#333" stroke-width="2.6"/>
<text transform="translate(1531.20,902.30) scale(1,1.035)" font-size="20.9" fill="#4D4D4D" stroke="#4D4D4D" stroke-width="0.5" text-anchor="middle">Symptomatic</text>
<line x1="1651.6" x2="1651.6" y1="874.7" y2="881.8" stroke="#333" stroke-width="2.6"/>
<text transform="translate(1651.60,902.30) scale(1,1.035)" font-size="20.9" fill="#4D4D4D" stroke="#4D4D4D" stroke-width="0.5" text-anchor="middle">Control</text>
</g>
<g>
<rect x="1737.7" y="47.3" width="263.15" height="827.4" fill="#fff"/>
<line x1="1737.7" x2="2000.8" y1="749.4" y2="749.4" stroke="#EBEBEB" stroke-width="1.4"/>
<line x1="1737.7" x2="2000.8" y1="524.8" y2="524.8" stroke="#EBEBEB" stroke-width="1.4"/>
<line x1="1737.7" x2="2000.8" y1="300.2" y2="300.2" stroke="#EBEBEB" stroke-width="1.4"/>
<line x1="1737.7" x2="2000.8" y1="75.6" y2="75.6" stroke="#EBEBEB" stroke-width="1.4"/>
<line x1="1737.7" x2="2000.8" y1="861.7" y2="861.7" stroke="#EBEBEB" stroke-width="2.2"/>
<line x1="1737.7" x2="2000.8" y1="637.1" y2="637.1" stroke="#EBEBEB" stroke-width="2.2"/>
<line x1="1737.7" x2="2000.8" y1="412.5" y2="412.5" stroke="#EBEBEB" stroke-width="2.2"/>
<line x1="1737.7" x2="2000.8" y1="187.9" y2="187.9" stroke="#EBEBEB" stroke-width="2.2"/>
<line x1="1809.0" x2="1809.0" y1="47.3" y2="874.7" stroke="#EBEBEB" stroke-width="2.2"/>
<line x1="1929.4" x2="1929.4" y1="47.3" y2="874.7" stroke="#EBEBEB" stroke-width="2.2"/>
<line x1="1809.0" x2="1809.0" y1="183.0" y2="401.5" stroke="#262626" stroke-width="1.7"/>
<line x1="1809.0" x2="1809.0" y1="618.0" y2="765.9" stroke="#262626" stroke-width="1.7"/>
<rect x="1763.9" y="401.5" width="90.2" height="216.5" fill="#FC840D" fill-opacity="0.65" stroke="#2b2b2b" stroke-width="1.8"/>
<line x1="1763.9" x2="1854.1" y1="524.0" y2="524.0" stroke="#2e2e2e" stroke-width="3.7"/>
<line x1="1929.4" x2="1929.4" y1="240.4" y2="348.9" stroke="#262626" stroke-width="1.7"/>
<line x1="1929.4" x2="1929.4" y1="545.2" y2="717.9" stroke="#262626" stroke-width="1.7"/>
<rect x="1884.3" y="348.9" width="90.2" height="196.3" fill="#115C06" fill-opacity="0.65" stroke="#2b2b2b" stroke-width="1.8"/>
<line x1="1884.3" x2="1974.5" y1="458.2" y2="458.2" stroke="#2e2e2e" stroke-width="3.7"/>
<g fill="#000" fill-opacity="0.225" stroke="#000" stroke-opacity="0.33" stroke-width="1.3">
<circle cx="1844.3" cy="183.0" r="3.65"/>
<circle cx="1919.4" cy="240.2" r="3.65"/>
<circle cx="1829.3" cy="296.5" r="3.65"/>
<circle cx="1902.9" cy="301.2" r="3.65"/>
<circle cx="1911.9" cy="311.4" r="3.65"/>
<circle cx="1775.7" cy="333.6" r="3.65"/>
<circle cx="1768.7" cy="336.4" r="3.65"/>
<circle cx="1847.0" cy="347.9" r="3.65"/>
<circle cx="1840.3" cy="361.6" r="3.65"/>
<circle cx="1798.9" cy="365.3" r="3.65"/>
<circle cx="1853.8" cy="364.6" r="3.65"/>
<circle cx="1955.6" cy="361.3" r="3.65"/>
<circle cx="1767.4" cy="374.8" r="3.65"/>
<circle cx="1762.9" cy="376.3" r="3.65"/>
<circle cx="1810.9" cy="383.3" r="3.65"/>
<circle cx="1973.6" cy="385.0" r="3.65"/>
<circle cx="1794.6" cy="398.8" r="3.65"/>
<circle cx="1941.9" cy="405.0" r="3.65"/>
<circle cx="1810.4" cy="408.3" r="3.65"/>
<circle cx="1814.8" cy="414.7" r="3.65"/>
<circle cx="1822.1" cy="428.2" r="3.65"/>
<circle cx="1832.6" cy="435.2" r="3.65"/>
<circle cx="1850.5" cy="434.7" r="3.65"/>
<circle cx="1794.6" cy="471.1" r="3.65"/>
<circle cx="1812.8" cy="495.4" r="3.65"/>
<circle cx="1780.7" cy="511.7" r="3.65"/>
<circle cx="1785.1" cy="515.0" r="3.65"/>
<circle cx="1796.9" cy="514.5" r="3.65"/>
<circle cx="1810.6" cy="514.7" r="3.65"/>
<circle cx="1894.5" cy="512.0" r="3.65"/>
<circle cx="1908.4" cy="518.0" r="3.65"/>
<circle cx="1810.6" cy="533.4" r="3.65"/>
<circle cx="1820.6" cy="539.9" r="3.65"/>
<circle cx="1855.5" cy="536.4" r="3.65"/>
<circle cx="1848.5" cy="548.9" r="3.65"/>
<circle cx="1902.9" cy="545.7" r="3.65"/>
<circle cx="1952.3" cy="545.4" r="3.65"/>
<circle cx="1806.9" cy="557.6" r="3.65"/>
<circle cx="1776.2" cy="578.9" r="3.65"/>
<circle cx="1779.9" cy="581.6" r="3.65"/>
<circle cx="1812.6" cy="582.6" r="3.65"/>
<circle cx="1764.2" cy="594.6" r="3.65"/>
<circle cx="1839.1" cy="607.3" r="3.65"/>
<circle cx="1898.4" cy="607.1" r="3.65"/>
<circle cx="1784.6" cy="616.3" r="3.65"/>
<circle cx="1832.6" cy="618.8" r="3.65"/>
<circle cx="1834.1" cy="643.2" r="3.65"/>
<circle cx="1826.8" cy="648.5" r="3.65"/>
<circle cx="1805.9" cy="653.2" r="3.65"/>
<circle cx="1835.3" cy="653.7" r="3.65"/>
<circle cx="1831.8" cy="660.2" r="3.65"/>
<circle cx="1766.2" cy="664.2" r="3.65"/>
<circle cx="1791.1" cy="673.9" r="3.65"/>
<circle cx="1829.6" cy="695.7" r="3.65"/>
<circle cx="1809.6" cy="717.4" r="3.65"/>
<circle cx="1909.4" cy="717.9" r="3.65"/>
<circle cx="1844.0" cy="742.1" r="3.65"/>
<circle cx="1767.9" cy="765.9" r="3.65"/>
</g>
<text transform="translate(1791.17,131.75) scale(1,1.035)" font-size="20.95" fill="#000" stroke="#000" stroke-width="0.5">p = 0.170</text>
<rect x="1737.7" y="47.3" width="263.15" height="827.4" fill="none" stroke="#333" stroke-width="1.5"/>
<rect x="1737.7" y="6.7" width="263.15" height="39.4" fill="#D9D9D9" stroke="#333" stroke-width="1.5"/>
<text transform="translate(1869.24,34.75) scale(1,1.035)" font-size="20.9" fill="#1A1A1A" stroke="#1A1A1A" stroke-width="0.5" text-anchor="middle">FEF2575%</text>
<line x1="1809.0" x2="1809.0" y1="874.7" y2="881.8" stroke="#333" stroke-width="2.6"/>
<text transform="translate(1808.97,902.30) scale(1,1.035)" font-size="20.9" fill="#4D4D4D" stroke="#4D4D4D" stroke-width="0.5" text-anchor="middle">Symptomatic</text>
<line x1="1929.4" x2="1929.4" y1="874.7" y2="881.8" stroke="#333" stroke-width="2.6"/>
<text transform="translate(1929.37,902.30) scale(1,1.035)" font-size="20.9" fill="#4D4D4D" stroke="#4D4D4D" stroke-width="0.5" text-anchor="middle">Control</text>
</g>
</svg>
</body></html>
